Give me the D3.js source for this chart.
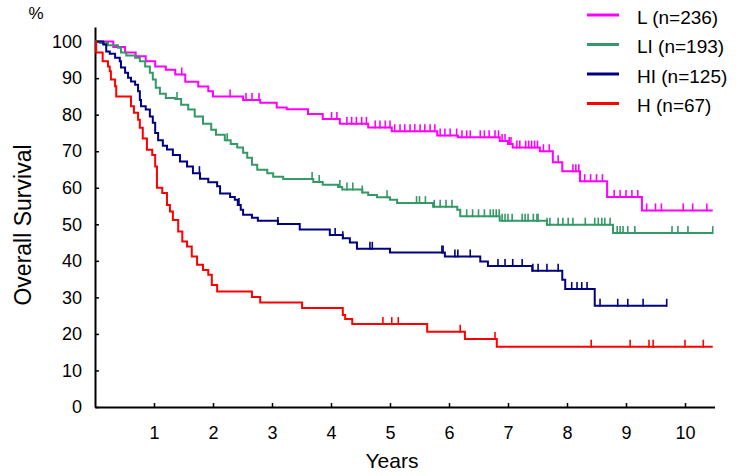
<!DOCTYPE html>
<html>
<head>
<meta charset="utf-8">
<script src="https://cdn.jsdelivr.net/npm/d3@7"></script>
<style>
  html, body { margin: 0; padding: 0; background: #fff; }
  svg { display: block; font-family: "Liberation Sans", Arial, sans-serif; }
</style>
</head>
<body>
<svg id="chart" width="737" height="476"></svg>
<script>
// ---------- data ----------
const seriesLabels = ["L (n=236)", "LI (n=193)", "HI (n=125)", "H (n=67)"];
const seriesColors = ["#ff00ff", "#339966", "#000080", "#ff0000"];

const xTickValues = [1, 2, 3, 4, 5, 6, 7, 8, 9, 10];
const yTickValues = [0, 10, 20, 30, 40, 50, 60, 70, 80, 90, 100];

// L (n=236)
const lTimes = [0, 0.31, 0.51, 0.69, 0.86, 1.02, 1.2, 1.36, 1.53, 1.75, 1.92, 2.0, 2.51, 2.8, 3.08, 3.25, 3.61, 3.86, 4.15, 4.63, 5.03, 5.8, 6.15, 6.86, 7.0, 7.08, 7.54, 7.76, 7.92, 8.22, 8.68, 9.27];
const lSurv  = [100, 98.5, 97, 96, 94.6, 93.2, 92.3, 91, 89, 87.7, 86.4, 85, 84, 83.3, 82, 81.5, 80.2, 78.8, 77.5, 76.5, 75.5, 74.3, 73.8, 72.8, 72, 71, 70, 67, 64.5, 61.8, 57.5, 53.8];
const lEnd = 10.47;
const lCensor = [1.47, 2.29, 2.56, 2.66, 2.78, 4.01, 4.1, 4.27, 4.35, 4.43, 4.52, 4.6, 4.75, 4.83, 4.92, 5.0, 5.08, 5.17, 5.25, 5.34, 5.42, 5.51, 5.59, 5.68, 5.76, 5.85, 5.93, 6.02, 6.13, 6.22, 6.3, 6.36, 6.53, 6.6, 6.68, 6.78, 6.84, 6.9, 6.95, 7.02, 7.05, 7.15, 7.2, 7.3, 7.35, 7.4, 7.45, 7.5, 7.6, 7.7, 7.85, 8.1, 8.15, 8.2, 8.3, 8.4, 8.5, 8.6, 8.8, 8.9, 9.0, 9.1, 9.2, 9.35, 9.5, 9.6, 9.97, 10.13, 10.37];

// LI (n=193)
const liTimes = [0, 0.08, 0.22, 0.39, 0.44, 0.53, 0.68, 0.76, 0.85, 0.93, 0.98, 1.03, 1.1, 1.2, 1.36, 1.46, 1.58, 1.69, 1.83, 1.97, 2.05, 2.2, 2.3, 2.41, 2.51, 2.58, 2.66, 2.75, 2.92, 3.02, 3.19, 3.7, 3.86, 4.12, 4.19, 4.53, 4.63, 4.78, 5.0, 5.12, 5.73, 6.14, 6.19, 6.86, 7.66, 8.78];
const liSurv  = [100, 99.6, 99, 98.3, 97, 96.2, 95.6, 94.6, 93.2, 91.5, 89.6, 87.4, 85.7, 84.6, 84.3, 82.7, 81.4, 79.5, 77.5, 75.9, 74.5, 73, 72, 71, 69.6, 68.2, 66.3, 64.9, 64, 63, 62.4, 61.6, 60.8, 60.2, 59.5, 58.7, 58, 57.4, 56.7, 55.8, 54.8, 54, 52.2, 51, 49.9, 47.6];
const liEnd = 10.47;
const liCensor = [1.39, 2.24, 3.68, 3.8, 4.15, 4.27, 4.37, 4.53, 4.95, 5.45, 5.5, 5.6, 5.75, 5.85, 5.95, 6.05, 6.3, 6.4, 6.5, 6.6, 6.7, 6.75, 6.8, 6.85, 6.9, 6.95, 7.0, 7.07, 7.24, 7.29, 7.34, 7.43, 7.49, 7.51, 7.66, 7.71, 7.85, 7.93, 8.02, 8.1, 8.31, 8.47, 8.53, 8.59, 8.64, 8.73, 8.85, 8.9, 8.95, 9.03, 9.15, 9.78, 9.88, 10.05, 10.47];

// HI (n=125)
const hiTimes = [0, 0.14, 0.19, 0.25, 0.34, 0.42, 0.44, 0.51, 0.56, 0.61, 0.68, 0.73, 0.76, 0.78, 0.86, 0.93, 0.98, 1.02, 1.07, 1.15, 1.22, 1.32, 1.44, 1.56, 1.66, 1.78, 1.92, 2.07, 2.12, 2.29, 2.37, 2.42, 2.47, 2.51, 2.66, 2.76, 3.1, 3.47, 3.98, 4.2, 4.32, 4.44, 5.0, 5.93, 6.53, 6.66, 7.41, 7.92, 7.97, 8.47];
const hiSurv  = [100, 99.2, 97.3, 96.7, 95.6, 94.6, 92.9, 91.5, 90.1, 89.1, 88.2, 86.4, 84, 82.3, 81.4, 79.5, 77.8, 75, 73, 71.5, 70.5, 69, 67.2, 65.8, 64, 62.5, 61.5, 60.4, 58.4, 57.5, 56.7, 55.3, 54, 52.6, 51.8, 51, 50.1, 48.6, 47.1, 46.2, 45, 43.3, 42.3, 41.2, 39.8, 38.6, 37.3, 34.8, 32.3, 27.7];
const hiEnd = 9.69;
const hiCensor = [1.77, 2.44, 3.1, 4.07, 4.2, 4.66, 4.7, 5.88, 5.9, 6.1, 6.15, 6.36, 6.83, 6.95, 7.08, 7.24, 7.42, 7.51, 7.66, 7.85, 8.08, 8.17, 8.25, 8.34, 8.56, 8.86, 9.03, 9.29, 9.69];

// H (n=67)
const hTimes = [0, 0.02, 0.13, 0.22, 0.25, 0.27, 0.34, 0.36, 0.61, 0.66, 0.73, 0.76, 0.81, 0.88, 0.97, 1.02, 1.05, 1.14, 1.22, 1.27, 1.32, 1.41, 1.48, 1.56, 1.64, 1.73, 1.83, 1.92, 1.98, 2.07, 2.66, 2.8, 3.51, 4.2, 4.24, 4.36, 5.63, 6.27, 6.81];
const hSurv  = [100, 97, 94.6, 93.2, 91.9, 89.6, 87.8, 85, 82.3, 80.5, 78.6, 76.4, 73.5, 70.4, 69, 65.8, 60, 58.6, 55.3, 53.5, 51.2, 48, 45.3, 43.9, 41.2, 38.9, 37.5, 36.2, 33.4, 31.6, 30.1, 28.6, 27.1, 25.2, 24.1, 22.7, 20.6, 18.6, 16.5];
const hEnd = 10.47;
const hCensor = [4.88, 5.03, 5.14, 6.19, 6.78, 8.41, 9.07, 9.39, 9.46, 10.0, 10.31];

const series = [
  { times: lTimes, surv: lSurv, end: lEnd, censor: lCensor },
  { times: liTimes, surv: liSurv, end: liEnd, censor: liCensor },
  { times: hiTimes, surv: hiSurv, end: hiEnd, censor: hiCensor },
  { times: hTimes, surv: hSurv, end: hEnd, censor: hCensor }
];

// ---------- layout ----------
const svg = d3.select("#chart");
const x = d3.scaleLinear().domain([0, 10.5]).range([95, 714.5]);
const y = d3.scaleLinear().domain([0, 104]).range([407, 27]);

// axes
const yAxis = d3.axisLeft(y).tickValues(yTickValues).tickSize(-4).tickSizeOuter(0).tickPadding(13);
const xAxis = d3.axisBottom(x).tickValues(xTickValues).tickSize(-4).tickSizeOuter(0).tickPadding(19);

const gy = svg.append("g").attr("transform", "translate(95,0)").call(yAxis);
const gx = svg.append("g").attr("transform", "translate(0,407)").call(xAxis);
[gx, gy].forEach(g => {
  g.select(".domain").attr("stroke", "#000").attr("stroke-width", 2);
  g.selectAll(".tick line").attr("stroke", "#000").attr("stroke-width", 1.5);
  g.selectAll(".tick text").attr("fill", "#000").style("font-size", "18px")
    .style("font-family", "'Liberation Sans', Arial, sans-serif");
});

// curves
const line = d3.line().x(d => x(d[0])).y(d => y(d[1])).curve(d3.curveStepAfter);
function survAt(s, t) {
  let idx = 0;
  for (let i = 0; i < s.times.length; i++) if (s.times[i] <= t) idx = i;
  return s.surv[idx];
}
series.forEach((s, i) => {
  const pts = s.times.map((t, k) => [t, s.surv[k]]);
  pts.push([s.end, s.surv[s.surv.length - 1]]);
  svg.append("path").datum(pts)
    .attr("d", line).attr("fill", "none")
    .attr("stroke", seriesColors[i]).attr("stroke-width", 2);
  svg.append("g").selectAll("line").data(s.censor).join("line")
    .attr("x1", d => x(d)).attr("x2", d => x(d))
    .attr("y1", d => y(survAt(s, d)) + 1)
    .attr("y2", d => y(survAt(s, d)) - 7)
    .attr("stroke", seriesColors[i]).attr("stroke-width", 1.6);
});

// titles
svg.append("text").attr("x", 36).attr("y", 19).attr("text-anchor", "middle")
  .style("font-size", "17px").text("%");
svg.append("text").attr("transform", "translate(31,225) rotate(-90)")
  .attr("text-anchor", "middle").style("font-size", "23px").text("Overall Survival");
svg.append("text").attr("x", 392).attr("y", 468).attr("text-anchor", "middle")
  .style("font-size", "21px").text("Years");

// legend
const lg = svg.append("g");
seriesLabels.forEach((lab, i) => {
  const ly = 15 + i * 29.5;
  lg.append("line").attr("x1", 587).attr("x2", 619).attr("y1", ly).attr("y2", ly)
    .attr("stroke", seriesColors[i]).attr("stroke-width", 3);
  lg.append("text").attr("x", 637).attr("y", ly + 2).attr("dy", "0.35em")
    .style("font-size", "19px").text(lab);
});
</script>
</body>
</html>
